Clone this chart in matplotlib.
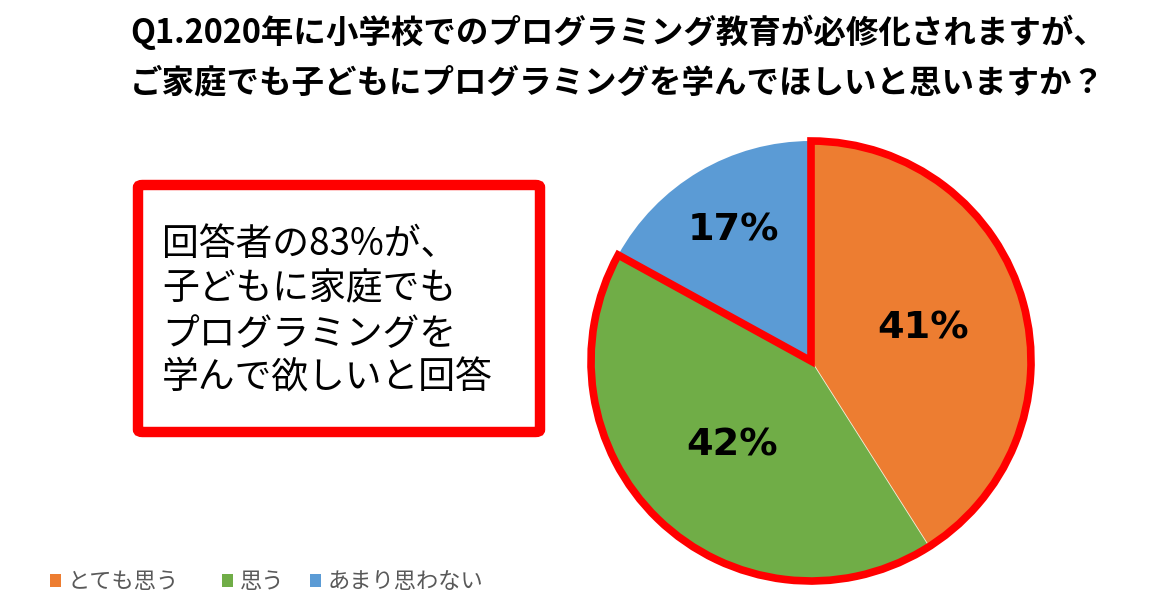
import matplotlib
matplotlib.use("Agg")
import matplotlib.pyplot as plt
from matplotlib.patches import Wedge, Rectangle, FancyBboxPatch
import numpy as np

plt.rcParams['font.family'] = ['Noto Sans CJK JP', 'DejaVu Sans']

# ---- data ----
categories = ["とても思う", "思う", "あまり思わない"]
values = [41, 42, 17]
colors = ["#ED7D31", "#70AD47", "#5B9BD5"]
title_lines = ["Q1.2020年に小学校でのプログラミング教育が必修化されますが、",
               "ご家庭でも子どもにプログラミングを学んでほしいと思いますか？"]
box_lines = ["回答者の83%が、", "子どもに家庭でも", "プログラミングを", "学んで欲しいと回答"]
highlight_n = 2  # first two categories outlined

W, H = 1150, 604
fig = plt.figure(figsize=(W / 100, H / 100), dpi=100)
fig.patch.set_facecolor("white")

def fx(px):
    return px / W

def fy(py):
    return 1 - py / H

# ---- title ----
fig.text(fx(130), fy(32), title_lines[0], fontsize=23.4, fontweight='bold',
         ha='left', va='center', color='black')
fig.text(fx(130), fy(83), title_lines[1], fontsize=23.4, fontweight='bold',
         ha='left', va='center', color='black')

# ---- pie ----
cx, cy, r = 811, 361, 220
ax = fig.add_axes([fx(cx - r), fy(cy + r), (2 * r) / W, (2 * r) / H])
wedges, _ = ax.pie(values, colors=colors, startangle=90, counterclock=False,
                   radius=1.0, wedgeprops=dict(edgecolor='none', linewidth=0))
wedges[0].set_edgecolor('#F5F0DC')
wedges[0].set_linewidth(1.2)
ax.set_xlim(-1, 1)
ax.set_ylim(-1, 1)
ax.set_aspect('equal')
ax.axis('off')

# labels
total = sum(values)
cum = 0
label_r = [0.53, 0.525, 0.69]
for v, lr in zip(values, label_r):
    mid = 90 - (cum + v / 2) / total * 360
    cum += v
    t = np.deg2rad(mid)
    ax.text(lr * np.cos(t), lr * np.sin(t), f"{v}%", ha='center', va='center',
            fontsize=27.5, fontweight='bold', color='black', family=['DejaVu Sans'])

# red outline around highlighted categories
hl = sum(values[:highlight_n]) / total * 360
outline = Wedge((0, 0), 1.0, 90 - hl, 90, fill=False, edgecolor='#FF0000',
                linewidth=5.5, joinstyle='miter', zorder=5, clip_on=False)
ax.add_patch(outline)

# ---- text box ----
bx0, by0, bx1, by1 = 138, 185, 540, 432
box = FancyBboxPatch((fx(bx0), fy(by1)), fx(bx1 - bx0), (by1 - by0) / H,
                     boxstyle="round,pad=0,rounding_size=0.004",
                     transform=fig.transFigure, fill=False,
                     edgecolor='#FF0000', linewidth=7.5)
fig.patches.append(box)
line_y = [245, 289, 334, 378]
for txt, yy in zip(box_lines, line_y):
    fig.text(fx(162), fy(yy), txt, fontsize=26.5, ha='left', va='center', color='black')

# ---- legend ----
leg_x = [50, 222, 310]
for cat, col, lx in zip(categories, colors, leg_x):
    h = Rectangle((0, 0), 1, 1, facecolor=col, edgecolor='none')
    lg = fig.legend([h], [cat], loc='center left', bbox_to_anchor=(fx(lx), fy(582)),
                    frameon=False, fontsize=16, handlelength=0.5, handleheight=0.5,
                    handletextpad=0.3, borderpad=0, borderaxespad=0, labelcolor='#595959')

fig.savefig("out.png", dpi=100, facecolor='white')
